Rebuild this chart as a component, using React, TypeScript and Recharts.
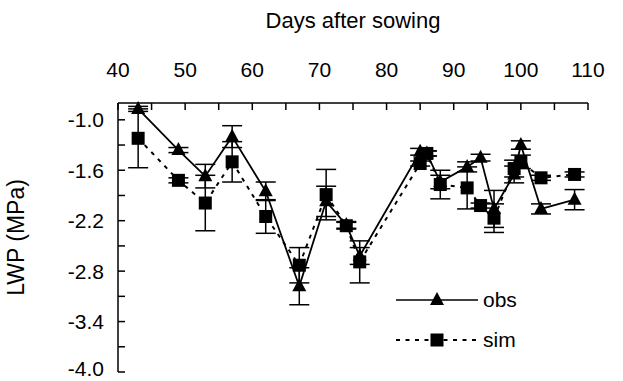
import React from "react";
import { ComposedChart, ErrorBar, Legend, Line, XAxis, YAxis } from "recharts";

const days = [43, 49, 53, 57, 62, 67, 71, 74, 76, 85, 86, 88, 92, 94, 96, 99, 100, 103, 108];
const obs = [-0.87, -1.36, -1.67, -1.2, -1.85, -2.98, -1.97, -2.25, -2.62, -1.38, -1.4, -1.74, -1.56, -1.45, -2.06, -1.65, -1.3, -2.06, -1.95];
const obsErr = [0.03, 0.03, 0.14, 0.13, 0.11, 0.22, 0.18, 0.04, 0.1, 0.04, 0.03, 0.08, 0.06, 0.04, 0.22, 0.1, 0.05, 0.06, 0.12];
const sim = [-1.22, -1.72, -1.99, -1.5, -2.15, -2.73, -1.89, -2.26, -2.69, -1.52, -1.4, -1.77, -1.81, -2.02, -2.17, -1.58, -1.5, -1.69, -1.65];
const simErr = [0.35, 0.03, 0.33, 0.24, 0.2, 0.21, 0.3, 0.04, 0.25, 0.03, 0.03, 0.17, 0.25, 0.03, 0.17, 0.1, 0.08, 0.03, 0.03];

const xTicks = [40, 45, 50, 55, 60, 65, 70, 75, 80, 85, 90, 95, 100, 105, 110];
const yTicks = [-4.0, -3.7, -3.4, -3.1, -2.8, -2.5, -2.2, -1.9, -1.6, -1.3, -1.0];
const yLabels = [-4.0, -3.4, -2.8, -2.2, -1.6, -1.0];

const data = days.map((d, i) => ({ day: d, obs: obs[i], obsErr: obsErr[i], sim: sim[i], simErr: simErr[i] }));

const font = "'Liberation Sans', Arial, sans-serif";

function TopTick(props: any) {
  const { x, y, payload } = props;
  const v = payload.value;
  return (
    <g>
      <line x1={x} y1={y} x2={x} y2={y + 7} stroke="#000" strokeWidth={1.5} />
      {v % 10 === 0 && (
        <text x={x} y={y - 34} textAnchor="middle" dominantBaseline="central" fontSize={21} fontFamily={font} fill="#000">
          {v}
        </text>
      )}
    </g>
  );
}

function LeftTick(props: any) {
  const { x, y, payload } = props;
  const v = payload.value;
  const show = yLabels.some((l) => Math.abs(l - v) < 1e-6);
  // keep the lowest label inside the picture
  const ty = v <= -3.99 ? y - 4 : y;
  return (
    <g>
      <line x1={x} y1={y} x2={x + 7} y2={y} stroke="#000" strokeWidth={1.5} />
      {show && (
        <text x={x - 14} y={ty} textAnchor="end" dominantBaseline="central" fontSize={21} fontFamily={font} fill="#000">
          {v.toFixed(1)}
        </text>
      )}
    </g>
  );
}

function Triangle(props: any) {
  const { cx, cy } = props;
  if (cx == null || cy == null) return null;
  return <polygon points={`${cx},${cy - 8} ${cx - 7},${cy + 5} ${cx + 7},${cy + 5}`} fill="#000" />;
}

function Square(props: any) {
  const { cx, cy } = props;
  if (cx == null || cy == null) return null;
  return <rect x={cx - 6.5} y={cy - 6.5} width={13} height={13} fill="#000" />;
}

function LegendBox() {
  return (
    <div style={{ fontFamily: font, fontSize: 21 }}>
      <div style={{ display: "flex", alignItems: "center", height: 40 }}>
        <svg width={82} height={20}>
          <line x1={0} y1={10} x2={82} y2={10} stroke="#000" strokeWidth={1.5} />
          <polygon points="41,2 34,15 48,15" fill="#000" />
        </svg>
        <span style={{ marginLeft: 5 }}>obs</span>
      </div>
      <div style={{ display: "flex", alignItems: "center", height: 40 }}>
        <svg width={82} height={20}>
          <line x1={0} y1={10} x2={82} y2={10} stroke="#000" strokeWidth={2} strokeDasharray="4 5.5" />
          <rect x={34.5} y={3.5} width={13} height={13} fill="#000" />
        </svg>
        <span style={{ marginLeft: 5 }}>sim</span>
      </div>
    </div>
  );
}

export default function App() {
  return (
    <div style={{ position: "absolute", left: 0, top: 0, width: 623, height: 381, background: "#fff" }}>
      <ComposedChart width={623} height={381} data={data} margin={{ top: 0, right: 35, bottom: 9, left: 0 }}>
        <XAxis
          dataKey="day"
          type="number"
          orientation="top"
          domain={[40, 110]}
          ticks={xTicks}
          interval={0}
          height={103}
          tickSize={0}
          tickMargin={0}
          tickLine={false}
          tick={<TopTick />}
          axisLine={{ stroke: "#000", strokeWidth: 1.5 }}
          label={{ value: "Days after sowing", position: "insideTop", offset: 12, fontSize: 22, fontFamily: font, fill: "#000" }}
        />
        <XAxis xAxisId="b" dataKey="day" type="number" orientation="bottom" domain={[40, 110]} height={0} tick={false} tickLine={false} axisLine={{ stroke: "#000", strokeWidth: 1.5 }} />
        <YAxis
          type="number"
          domain={[-4, -0.8]}
          ticks={yTicks}
          interval={0}
          width={118}
          tickSize={0}
          tickMargin={0}
          tickLine={false}
          tick={<LeftTick />}
          axisLine={{ stroke: "#000", strokeWidth: 1.5 }}
          label={{ value: "LWP (MPa)", angle: -90, position: "insideLeft", offset: 16, fontSize: 23, fontFamily: font, fill: "#000", style: { textAnchor: "middle" } }}
        />
        <YAxis yAxisId="r" orientation="right" type="number" domain={[-4, -0.8]} width={0} tick={false} tickLine={false} axisLine={{ stroke: "#000", strokeWidth: 1.5 }} />
        <Legend
          layout="vertical"
          align="center"
          verticalAlign="middle"
          content={() => <LegendBox />}
          wrapperStyle={{ left: 396, top: 280, width: 140, height: 80 }}
        />
        <Line dataKey="sim" name="sim" stroke="#000" strokeWidth={2} strokeDasharray="4 5.5" dot={<Square />} activeDot={false} isAnimationActive={false}>
          <ErrorBar dataKey="simErr" direction="y" width={10} stroke="#000" strokeWidth={1.5} />
        </Line>
        <Line dataKey="obs" name="obs" stroke="#000" strokeWidth={1.8} dot={<Triangle />} activeDot={false} isAnimationActive={false}>
          <ErrorBar dataKey="obsErr" direction="y" width={10} stroke="#000" strokeWidth={1.5} />
        </Line>
      </ComposedChart>
    </div>
  );
}
